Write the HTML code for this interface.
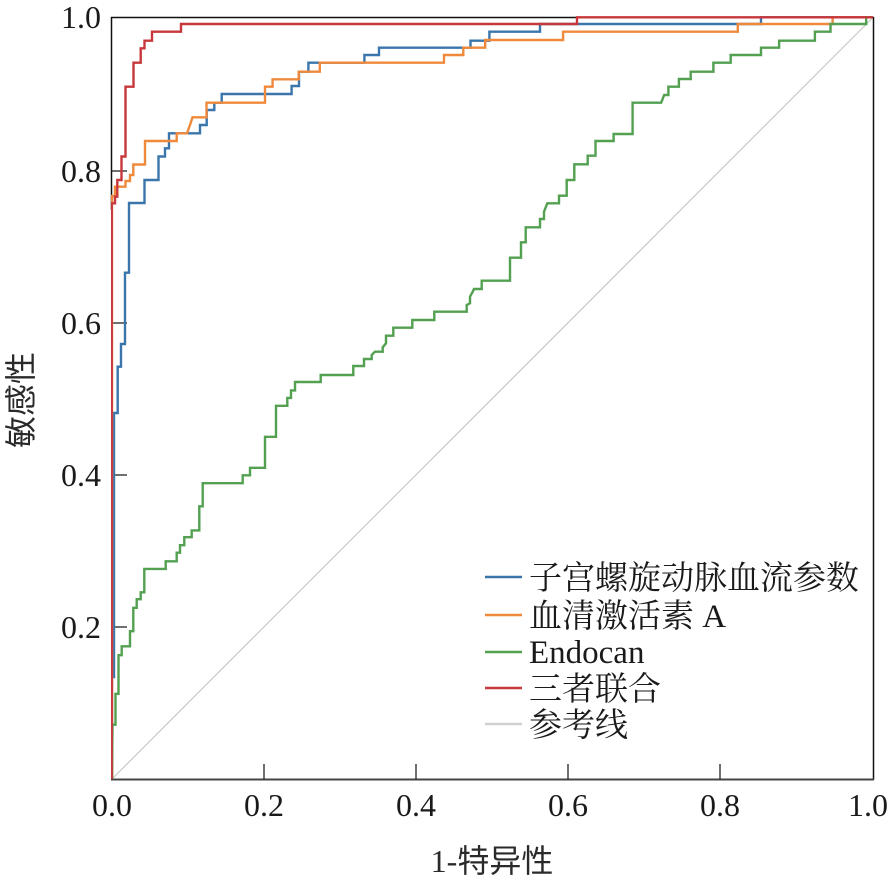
<!DOCTYPE html>
<html>
<head>
<meta charset="utf-8">
<style>
  html, body { margin: 0; padding: 0; background: #ffffff; }
  svg { display: block; }
  .tick { font-family: "Liberation Serif", "Noto Serif CJK SC", serif; font-size: 32px; fill: #1a1a1a; }
  .leg { font-family: "Liberation Serif", "Noto Serif CJK SC", serif; font-size: 33px; fill: #1a1a1a; }
  .title { font-family: "Liberation Serif", "Noto Sans CJK SC", sans-serif; font-size: 32px; fill: #2a2a2a; }
</style>
</head>
<body>
<svg width="896" height="883" viewBox="0 0 896 883" xmlns="http://www.w3.org/2000/svg">
  <defs>
    <clipPath id="plot">
      <rect x="111" y="16" width="763" height="764"/>
    </clipPath>
  </defs>
  <rect x="0" y="0" width="896" height="883" fill="#ffffff"/>

  <!-- reference diagonal -->
  <line x1="112" y1="779" x2="873" y2="17.5" stroke="#c8c8c8" stroke-width="1.2"/>

  <!-- spines -->
  <line x1="111.5" y1="17" x2="111.5" y2="210" stroke="#111" stroke-width="1.5"/>
  <line x1="111" y1="17.5" x2="874" y2="17.5" stroke="#111" stroke-width="1.5"/>
  <line x1="873.5" y1="17" x2="873.5" y2="780" stroke="#111" stroke-width="1.5"/>
  <line x1="111" y1="779.5" x2="874" y2="779.5" stroke="#444" stroke-width="2"/>

  <!-- ticks -->
  <g stroke="#111" stroke-width="1.2">
    <line x1="264" y1="779" x2="264" y2="764"/>
    <line x1="416" y1="779" x2="416" y2="764"/>
    <line x1="568" y1="779" x2="568" y2="764"/>
    <line x1="720" y1="779" x2="720" y2="764"/>
    <line x1="112" y1="627" x2="127" y2="627"/>
    <line x1="112" y1="475" x2="127" y2="475"/>
    <line x1="112" y1="323" x2="127" y2="323"/>
    <line x1="112" y1="171" x2="127" y2="171"/>
  </g>

  <g clip-path="url(#plot)" fill="none" stroke-width="2.4" stroke-linejoin="miter">
    <!-- blue -->
    <path stroke="#3a76ac" d="M112,779 L112,677 L114,677 L114,413 L117.7,413 L117.7,366.7 L121,366.7 L121,344 L125,344 L125,272.7 L129,272.7 L129,203 L144.5,203 L144.5,180 L158.5,180 L158.5,156.5 L165,156.5 L165,148.3 L169,148.3 L169,133.3 L200,133.3 L200,125 L206.7,125 L206.7,110 L214.3,110 L214.3,102.7 L221.7,102.7 L221.7,94 L291.6,94 L291.6,86 L299,86 L299,71.7 L308.4,71.7 L308.4,62.7 L364.4,62.7 L364.4,55 L379,55 L379,47.7 L470.5,47.7 L470.5,40.7 L489.4,40.7 L489.4,31.7 L540,31.7 L540,24 L761,24 L761,17.3 L873,17.3"/>
    <!-- orange -->
    <path stroke="#ef8a3d" d="M112,779 L112,205 L112,196 L115,196 L115,186.7 L125.5,186.7 L125.5,181 L130,181 L130,175 L133.3,175 L133.3,164.5 L145,164.5 L145,141 L176.7,141 L176.7,133.3 L187,133.3 L190,125 L192.5,117.3 L206.5,117.3 L206.5,102.7 L265,102.7 L265,86.7 L272.6,86.7 L272.6,79.3 L298.7,79.3 L298.7,71.7 L319.8,71.7 L319.8,62.7 L444,62.7 L444,55 L463.3,55 L463.3,47.7 L485.2,47.7 L485.2,40 L563.1,40 L563.1,31.7 L737.8,31.7 L737.8,24 L832.6,24 L832.6,17.3 L873,17.3"/>
    <!-- green -->
    <path stroke="#52a050" d="M112,779 L112.5,724.7 L115.5,724.7 L115.5,693.8 L118.5,693.8 L118.5,655.2 L121.7,655.2 L121.7,646.3 L130,646.3 L130,631.2 L133.3,631.2 L133.3,607.8 L136.7,607.8 L136.7,599.2 L140.7,599.2 L140.7,592.3 L144.3,592.3 L144.3,568.9 L165.7,568.9 L165.7,561.3 L176.7,561.3 L176.7,552.7 L180,552.7 L180,545.2 L184.3,545.2 L184.3,537.2 L191.7,537.2 L191.7,530.4 L199.3,530.4 L199.3,506.3 L202.7,506.3 L202.7,483.2 L242.7,483.2 L242.7,475.3 L250,475.3 L250,467.8 L265,467.8 L265,436.8 L276,436.8 L276,405.8 L287.3,405.8 L287.3,397.9 L291,397.9 L291,390.4 L295,390.4 L295,382 L320.7,382 L320.7,375 L353.3,375 L353.3,366 L364,366 L364,359 L371.7,359 L371.7,355 L375,351.7 L382.7,351.7 L382.7,347.3 L386,343.3 L386,335.7 L393.3,335.7 L393.3,327.7 L412.3,327.7 L412.3,320 L434.3,320 L434.3,311.7 L466.7,311.7 L466.7,305 L470,303.3 L470,296.7 L472.7,291.7 L474,289 L481.7,289 L481.7,280.7 L510,280.7 L510,257.7 L521,257.7 L521,242.3 L525.7,242.3 L525.7,227.3 L540,227.3 L540,219 L544,219 L544,211.7 L547.3,203.3 L559,203.3 L559,195.7 L566.7,195.7 L566.7,180 L574.3,180 L574.3,164.3 L587.7,164.3 L587.7,155.7 L595.5,155.7 L595.5,141 L613.6,141 L613.6,134 L632.6,134 L632.6,102.7 L661.2,102.7 L664.2,95 L668.4,95 L668.4,86.7 L678.9,86.7 L678.9,79 L690.7,79 L690.7,71.7 L713.4,71.7 L713.4,62.7 L730.7,62.7 L730.7,55 L761,55 L761,47.7 L779.1,47.7 L779.1,40.7 L814.9,40.7 L814.9,31.7 L830.5,31.7 L830.5,24 L866.2,24 L866.2,17.3 L873,17.3"/>
    <!-- red -->
    <path stroke="#c8373b" d="M111.7,779 L111.7,203.3 L115,203.3 L115,196.7 L117.3,196.7 L117.3,180 L121.5,180 L121.5,156.5 L125.5,156.5 L125.5,86.7 L133.5,86.7 L133.5,62.7 L140.7,62.7 L140.7,48.3 L144.5,48.3 L144.5,40.7 L152,40.7 L152,31.7 L181,31.7 L181,24 L577,24 L577,17.3 L873,17.3"/>
  </g>

  <!-- y tick labels -->
  <g class="tick" text-anchor="end">
    <text x="101" y="28">1.0</text>
    <text x="101" y="182">0.8</text>
    <text x="101" y="334">0.6</text>
    <text x="101" y="486">0.4</text>
    <text x="101" y="638">0.2</text>
  </g>
  <!-- x tick labels -->
  <g class="tick" text-anchor="middle">
    <text x="112" y="816">0.0</text>
    <text x="264" y="816">0.2</text>
    <text x="416" y="816">0.4</text>
    <text x="568" y="816">0.6</text>
    <text x="720" y="816">0.8</text>
    <text x="868" y="816">1.0</text>
  </g>

  <!-- axis titles -->
  <text class="title" x="492" y="872" text-anchor="middle">1-特异性</text>
  <text class="title" transform="translate(32,400) rotate(-90)" text-anchor="middle">敏感性</text>

  <!-- legend -->
  <g stroke-width="2.4">
    <line x1="485" y1="577" x2="522" y2="577" stroke="#3a76ac"/>
    <line x1="485" y1="615" x2="522" y2="615" stroke="#ef8a3d"/>
    <line x1="485" y1="652" x2="522" y2="652" stroke="#52a050"/>
    <line x1="485" y1="688" x2="522" y2="688" stroke="#c8373b"/>
    <line x1="485" y1="724" x2="522" y2="724" stroke="#d0d0d0"/>
  </g>
  <g class="leg">
    <text x="529" y="589">子宫螺旋动脉血流参数</text>
    <text x="529" y="627">血清激活素 A</text>
    <text x="529" y="663">Endocan</text>
    <text x="529" y="700">三者联合</text>
    <text x="529" y="736">参考线</text>
  </g>
</svg>
</body>
</html>
